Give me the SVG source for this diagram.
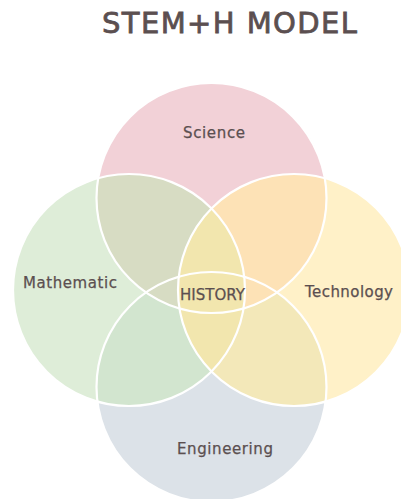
<svg xmlns="http://www.w3.org/2000/svg" width="401" height="499" viewBox="0 0 401 499">
  <defs>
    <clipPath id="cS"><circle cx="211.5" cy="198" r="115"/></clipPath>
    <clipPath id="cM"><circle cx="129" cy="290" r="116"/></clipPath>
    <clipPath id="cT"><circle cx="294" cy="290" r="116"/></clipPath>
    <clipPath id="cE"><circle cx="211.5" cy="387" r="115"/></clipPath>
    <style>
      .lbl { font-family: "DejaVu Sans", "Liberation Sans", sans-serif; fill: #5b4f50; font-size: 15px; stroke: #5b4f50; stroke-width: 0.25; }
      .title { font-family: "DejaVu Sans", "Liberation Sans", sans-serif; fill: #5b4f50; font-size: 29px; stroke: #5b4f50; stroke-width: 0.8; }
      .ring { fill: none; stroke: #ffffff; stroke-width: 2.2; }
    </style>
  </defs>
  <rect width="401" height="499" fill="#ffffff"/>
  <text class="title" x="102" y="33" textLength="255" lengthAdjust="spacing">STEM+H MODEL</text>

  <g id="fills">
    <circle id="science-fill" cx="211.5" cy="198" r="115" fill="#f2d1d7"/>
    <circle id="math-fill" cx="129" cy="290" r="116" fill="#deedd8"/>
    <circle id="tech-fill" cx="294" cy="290" r="116" fill="#fff1c8"/>
    <circle id="eng-fill" cx="211.5" cy="387" r="115" fill="#dce2e8"/>
    <circle cx="211.5" cy="387" r="115" fill="#d2e5cf" clip-path="url(#cM)"/>
    <circle cx="211.5" cy="387" r="115" fill="#f3e8b9" clip-path="url(#cT)"/>
    <circle cx="129" cy="290" r="116" fill="#d7dcc3" clip-path="url(#cS)"/>
    <circle cx="294" cy="290" r="116" fill="#fde2b6" clip-path="url(#cS)"/>
    <circle cx="294" cy="290" r="116" fill="#f2e6ae" clip-path="url(#cM)"/>
  </g>

  <g id="science">
    <circle class="ring" cx="211.5" cy="198" r="115"/>
    <text class="lbl" x="183" y="138" textLength="62" lengthAdjust="spacing">Science</text>
  </g>
  <g id="mathematic">
    <circle class="ring" cx="129" cy="290" r="116"/>
    <text class="lbl" x="23" y="288" textLength="94" lengthAdjust="spacing">Mathematic</text>
  </g>
  <g id="technology">
    <circle class="ring" cx="294" cy="290" r="116"/>
    <text class="lbl" x="305" y="297" textLength="88" lengthAdjust="spacing">Technology</text>
  </g>
  <g id="engineering">
    <circle class="ring" cx="211.5" cy="387" r="115"/>
    <text class="lbl" x="177" y="454" textLength="96" lengthAdjust="spacing">Engineering</text>
  </g>
  <g id="history">
    <text class="lbl" x="180" y="300" textLength="65" lengthAdjust="spacing">HISTORY</text>
  </g>
  <g id="connectors"/>
</svg>
